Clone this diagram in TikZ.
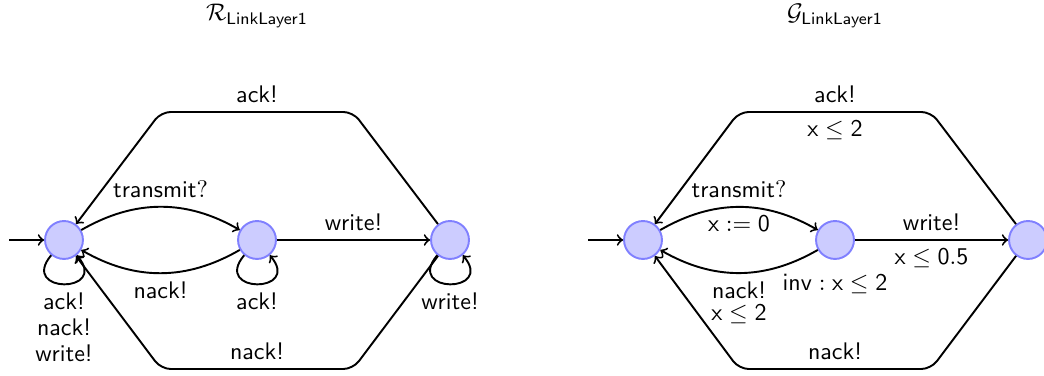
\documentclass[tikz,border=0pt]{standalone}
\begin{document}
\begin{tikzpicture}[x=0.4167pt,y=0.4167pt,font=\sffamily,
  loc/.style={circle,draw=blue!50,fill=blue!20,thick,minimum size=15.8pt,inner sep=0pt},
  trans/.style={->,thick},
  title/.style={inner sep=0.5pt},
  selfloop/.style={->,thick,out=-130,in=-50,looseness=1,min distance=21pt}]
\clip (0,0) rectangle (1044,376);
% titles
\node[title] (tR) at (257,360) {$\mathcal{R}_{\mathsf{LinkLayer1}}$};
\node[title] (tG) at (835,360) {$\mathcal{G}_{\mathsf{LinkLayer1}}$};
% R automaton
\node[loc] (r1) at (64,136) {};
\node[loc] (r2) at (257,136) {};
\node[loc] (r3) at (450,136) {};
\coordinate (ri) at (9,136);
\coordinate (rtl) at (161,264);
\coordinate (rtr) at (353,264);
\coordinate (rbl) at (161,7);
\coordinate (rbr) at (353,7);
\draw[trans] (ri) -- (r1);
\draw[trans] (r1) to[bend left=30] node[above] {transmit$?$} (r2);
\draw[trans] (r2) to[bend left=30] node[below] {nack!} (r1);
\draw[trans] (r2) -- node[above] {write!} (r3);
\draw[trans,rounded corners=4pt] (r3) -- (rtr) -- node[above] {ack!} (rtl) -- (r1);
\draw[trans,rounded corners=4pt] (r3) -- (rbr) -- node[above] {nack!} (rbl) -- (r1);
\draw[selfloop] (r1) to node[below,align=center] {ack!\\[-1.2pt]nack!\\[-1.2pt]write!} (r1);
\draw[selfloop] (r2) to node[below] {ack!} (r2);
\draw[selfloop] (r3) to node[below] {write!} (r3);
% G automaton
\node[loc] (g1) at (643,136) {};
\node[loc] (g2) at (835,136) {};
\node[loc] (g3) at (1028,136) {};
\coordinate (gi) at (588,136);
\coordinate (gtl) at (739,264);
\coordinate (gtr) at (931,264);
\coordinate (gbl) at (739,7);
\coordinate (gbr) at (931,7);
\draw[trans] (gi) -- (g1);
\draw[trans] (g1) to[bend left=30] node[above] {transmit$?$} node[below] {$\mathsf{x}:=\mathsf{0}$} (g2);
\draw[trans] (g2) to[bend left=30] node[below,align=center] {nack!\\[-3pt]$\mathsf{x}\leq\mathsf{2}$} (g1);
\draw[trans] (g2) -- node[above] {write!} node[below] {$\mathsf{x}\leq\mathsf{0.5}$} (g3);
\draw[trans,rounded corners=4pt] (g3) -- (gtr) -- node[above] {ack!} node[below] {$\mathsf{x}\leq\mathsf{2}$} (gtl) -- (g1);
\draw[trans,rounded corners=4pt] (g3) -- (gbr) -- node[above] {nack!} (gbl) -- (g1);
\node (inv) at (835,92) {$\mathsf{inv}:\mathsf{x}\leq\mathsf{2}$};
\end{tikzpicture}
\end{document}
